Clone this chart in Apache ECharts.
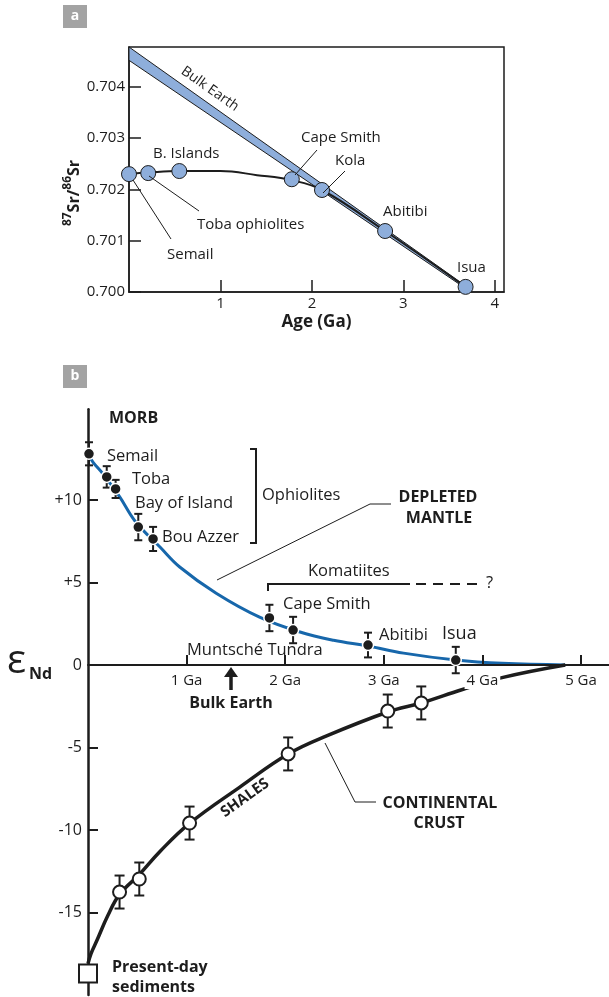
<!DOCTYPE html>
<html><head><meta charset="utf-8">
<script src="https://cdn.jsdelivr.net/npm/echarts@6/dist/echarts.min.js"></script>
<style>html,body{margin:0;padding:0;background:#fff}#c{width:609px;height:997px}</style>
</head><body><div id="c"></div>
<script>
// ---------- Panel a data : 87Sr/86Sr vs age ----------
const srNames = ['Semail', 'Toba ophiolites', 'B. Islands', 'Cape Smith', 'Kola', 'Abitibi', 'Isua'];
const srAge = [0.0, 0.21, 0.55, 1.78, 2.11, 2.80, 3.68];
const srRatio = [0.70230, 0.70232, 0.70236, 0.70220, 0.70199, 0.70119, 0.70010];
const srCurveAge = [0.0, 0.21, 0.55, 1.0, 1.4, 1.78, 2.11, 2.80, 3.68];
const srCurveRatio = [0.70230, 0.70233, 0.70236, 0.70236, 0.70228, 0.70218, 0.70199, 0.70119, 0.70010];
const bandAge = [0.0, 3.68];
const bandUpper = [0.70478, 0.70012];
const bandLower = [0.70452, 0.70007];
const srTicks = [0.700, 0.701, 0.702, 0.703, 0.704];
const ageTicksA = [1, 2, 3, 4];

// ---------- Panel b data : eps Nd vs age ----------
const mantleNames = ['Semail', 'Toba', 'Bay of Island', 'Bay of Island', 'Bou Azzer', 'Cape Smith', 'Muntsché Tundra', 'Abitibi', 'Isua'];
const mantleAge = [0.01, 0.19, 0.28, 0.51, 0.66, 1.84, 2.08, 2.84, 3.73];
const mantleEps = [12.8, 11.4, 10.67, 8.36, 7.64, 2.85, 2.12, 1.21, 0.30];
const mantleErr = [0.7, 0.65, 0.55, 0.8, 0.73, 0.8, 0.8, 0.75, 0.8];
const mantleCurveAge = [0, 0.05, 0.15, 0.32, 0.48, 0.73, 0.93, 1.3, 1.74, 2.15, 2.49, 2.84, 3.2, 3.73, 4.2, 4.84];
const mantleCurveEps = [12.8, 12.3, 11.6, 10.2, 8.7, 7.15, 5.94, 4.35, 2.9, 2.0, 1.5, 1.15, 0.72, 0.3, 0.1, 0];
const shaleAge = [0.32, 0.52, 1.03, 2.03, 3.04, 3.38];
const shaleEps = [-13.76, -12.97, -9.58, -5.39, -2.79, -2.30];
const shaleErr = [1.0, 1.0, 1.0, 1.0, 1.0, 1.0];
const crustCurveAge = [0, 0.03, 0.09, 0.2, 0.32, 0.52, 0.73, 1.03, 1.54, 2.03, 2.42, 3.04, 3.38, 3.79, 4.21, 4.84];
const crustCurveEps = [-18.1, -17.5, -16.7, -15.2, -13.9, -12.7, -11.3, -9.6, -7.4, -5.4, -4.3, -2.85, -2.3, -1.5, -0.75, 0];
const sedimentAge = [0.0];
const sedimentEps = [-18.7];
const epsTicks = [-15, -10, -5, 0, 5, 10];
const ageTicksB = [1, 2, 3, 4, 5];

// ---------- styling ----------
const FONT = '"Open Sans", "Noto Sans", sans-serif';
const INK = '#1d1d1d';
const LIGHTBLUE = '#8eaedb';
const DEEPBLUE = '#1767ab';

const zip = (a, b) => a.map((v, i) => [v, b[i]]);
const zip3 = (a, b, c) => a.map((v, i) => [v, b[i], c[i]]);

function errorBarRender(capHalf, lw) {
  return function (params, api) {
    const x = api.value(0), y = api.value(1), e = api.value(2);
    const t = api.coord([x, y + e]);
    const b = api.coord([x, y - e]);
    const st = { stroke: INK, lineWidth: lw };
    return {
      type: 'group', children: [
        { type: 'line', shape: { x1: t[0], y1: t[1], x2: b[0], y2: b[1] }, style: st },
        { type: 'line', shape: { x1: t[0] - capHalf, y1: t[1], x2: t[0] + capHalf, y2: t[1] }, style: st },
        { type: 'line', shape: { x1: b[0] - capHalf, y1: b[1], x2: b[0] + capHalf, y2: b[1] }, style: st }
      ]
    };
  };
}

function txt(x, y, text, size, opt) {
  opt = opt || {};
  return {
    type: 'text', x: x, y: y, rotation: opt.rot || 0, z: 100,
    style: {
      x: 0, y: 0, text: text, fill: opt.fill || INK,
      font: (opt.bold ? 'bold ' : '') + size + 'px ' + FONT,
      align: opt.align || 'left', verticalAlign: 'middle',
      textAlign: opt.align || 'left', textVerticalAlign: 'middle'
    }
  };
}
function ln(pts, lw, dash) {
  return { type: 'polyline', z: 90, shape: { points: pts }, style: { stroke: INK, lineWidth: lw, fill: null, lineDash: dash || null } };
}

const graphics = [
  // panel badges
  { type: 'rect', shape: { x: 63, y: 5, width: 24, height: 23 }, style: { fill: '#a3a3a3' } },
  txt(75, 16.5, 'a', 14, { bold: true, align: 'center', fill: '#fff' }),
  { type: 'rect', shape: { x: 63, y: 365, width: 24, height: 23 }, style: { fill: '#a3a3a3' } },
  txt(75, 376.5, 'b', 14, { bold: true, align: 'center', fill: '#fff' }),

  // panel a y-axis name
  {
    type: 'text', x: 72, y: 193, rotation: Math.PI / 2, z: 100,
    style: {
      x: 0, y: 0, text: '{s|87}{b|Sr/}{s|86}{b|Sr}',
      align: 'center', verticalAlign: 'middle', textAlign: 'center', textVerticalAlign: 'middle',
      rich: {
        s: { font: 'bold 12px ' + FONT, fill: INK, verticalAlign: 'top', lineHeight: 20 },
        b: { font: 'bold 16px ' + FONT, fill: INK, verticalAlign: 'bottom', lineHeight: 20 }
      }
    }
  },
  // panel a annotations
  txt(210, 89, 'Bulk Earth', 14, { align: 'center', rot: -35.2 * Math.PI / 180 }),
  txt(153, 154, 'B. Islands', 15),
  txt(301, 138, 'Cape Smith', 15),
  txt(335, 161, 'Kola', 15),
  txt(383, 212, 'Abitibi', 15),
  txt(457, 268, 'Isua', 15),
  txt(197, 225, 'Toba ophiolites', 15),
  txt(167, 255, 'Semail', 15),
  ln([[317, 150], [295, 175]], 1),
  ln([[345, 171], [323, 193]], 1),
  ln([[199, 211], [149, 176]], 1),
  ln([[171, 239], [133, 180]], 1),

  // panel b axis name
  txt(7, 662, 'ε', 40),
  txt(29, 674, 'Nd', 16, { bold: true }),
  // panel b annotations
  txt(109, 418, 'MORB', 16, { bold: true }),
  txt(107, 456, 'Semail', 16.5),
  txt(132, 479, 'Toba', 16.5),
  txt(135, 503, 'Bay of Island', 16.5),
  txt(162, 537, 'Bou Azzer', 16.5),
  txt(262, 495, 'Ophiolites', 16.5),
  ln([[250, 449], [256, 449], [256, 543], [250, 543]], 2),
  txt(438, 497, 'DEPLETED', 16, { bold: true, align: 'center' }),
  txt(439, 518, 'MANTLE', 16, { bold: true, align: 'center' }),
  ln([[217, 580], [370, 504], [391, 504]], 1),
  txt(308, 571, 'Komatiites', 16.5),
  ln([[268, 591], [268, 584], [410, 584]], 2),
  ln([[416, 584], [478, 584]], 2, [10, 7]),
  txt(486, 583, '?', 16.5),
  txt(283, 604, 'Cape Smith', 16.5),
  txt(187, 650, 'Muntsché Tundra', 16.5),
  txt(379, 635, 'Abitibi', 16.5),
  txt(442, 634, 'Isua', 18),
  // Bulk Earth arrow
  { type: 'line', z: 90, shape: { x1: 231, y1: 690, x2: 231, y2: 675 }, style: { stroke: INK, lineWidth: 3.5 } },
  { type: 'polygon', z: 90, shape: { points: [[224, 677], [238, 677], [231, 667]] }, style: { fill: INK } },
  txt(231, 703, 'Bulk Earth', 16, { bold: true, align: 'center' }),
  txt(245, 798, 'SHALES', 15, { bold: true, align: 'center', rot: 35.7 * Math.PI / 180 }),
  ln([[325, 743], [355, 802], [376, 802]], 1),
  txt(440, 803, 'CONTINENTAL', 16, { bold: true, align: 'center' }),
  txt(439, 823, 'CRUST', 16, { bold: true, align: 'center' }),
  txt(112, 967, 'Present-day', 16, { bold: true }),
  txt(112, 987, 'sediments', 16, { bold: true })
];

const chart = echarts.init(document.getElementById('c'), null, { renderer: 'canvas' });
const option = {
  animation: false,
  backgroundColor: '#fff',
  textStyle: { fontFamily: FONT },
  grid: [
    { left: 129, top: 47, width: 375, height: 245, show: true, borderColor: INK, borderWidth: 1.5, backgroundColor: 'transparent', containLabel: false, outerBoundsMode: 'none' },
    { left: 88, top: 409.25, width: 521, height: 585.75, containLabel: false, outerBoundsMode: 'none' }
  ],
  xAxis: [
    {
      gridIndex: 0, type: 'value', min: 0, max: 4.1, interval: 1,
      axisLine: { onZero: false, lineStyle: { color: INK, width: 1.5 } },
      axisTick: { inside: true, length: 12, customValues: ageTicksA, lineStyle: { color: INK, width: 1.5 } },
      axisLabel: { customValues: ageTicksA, color: INK, fontSize: 15, margin: 4, fontFamily: FONT },
      splitLine: { show: false },
      name: 'Age (Ga)', nameLocation: 'middle', nameGap: 22,
      nameTextStyle: { fontWeight: 'bold', fontSize: 17, color: INK, fontFamily: FONT }
    },
    {
      // the zero line of panel b: drawn at eps = 0 by moving the bottom axis up 20 units (20 x 16.5 px)
      gridIndex: 1, type: 'value', min: 0, max: 5.284, interval: 1, position: 'bottom', offset: -330, z: 5,
      axisLine: { onZero: false, lineStyle: { color: INK, width: 2 } },
      axisTick: { inside: true, length: 10, customValues: ageTicksB, lineStyle: { color: INK, width: 2 } },
      axisLabel: { customValues: ageTicksB, color: INK, fontSize: 15, margin: 7, fontFamily: FONT, formatter: v => v + ' Ga', backgroundColor: '#fff', padding: [1, 2] },
      splitLine: { show: false }
    }
  ],
  yAxis: [
    {
      gridIndex: 0, type: 'value', min: 0.700, max: 0.70478, interval: 0.001,
      axisLine: { show: true, onZero: false, lineStyle: { color: INK, width: 1.5 } },
      axisTick: { inside: true, length: 12, customValues: srTicks, lineStyle: { color: INK, width: 1.5 } },
      axisLabel: { customValues: srTicks, color: INK, fontSize: 15, margin: 4, fontFamily: FONT, formatter: v => v.toFixed(3) },
      splitLine: { show: false }
    },
    {
      gridIndex: 1, type: 'value', min: -20, max: 15.5,
      axisLine: { show: true, onZero: false, lineStyle: { color: INK, width: 2.5 } },
      axisTick: { inside: true, length: 10, customValues: epsTicks, lineStyle: { color: INK, width: 2 } },
      axisLabel: { customValues: epsTicks, color: INK, fontSize: 16, margin: 6, fontFamily: FONT, formatter: v => (v > 0 ? '+' + v : String(v)) },
      splitLine: { show: false }
    }
  ],
  series: [
    // ---- panel a ----
    {
      type: 'custom', xAxisIndex: 0, yAxisIndex: 0, z: 1, silent: true,
      data: [[0, 0.7]],
      renderItem: function (params, api) {
        const up = bandAge.map((a, i) => api.coord([a, bandUpper[i]]));
        const lo = bandAge.map((a, i) => api.coord([a, bandLower[i]])).reverse();
        return { type: 'polygon', shape: { points: up.concat(lo) }, style: { fill: LIGHTBLUE, stroke: INK, lineWidth: 1 } };
      }
    },
    {
      type: 'line', xAxisIndex: 0, yAxisIndex: 0, z: 2, smooth: 0.4, showSymbol: false,
      data: zip(srCurveAge, srCurveRatio), lineStyle: { color: INK, width: 2 }
    },
    {
      type: 'scatter', xAxisIndex: 0, yAxisIndex: 0, z: 3, symbolSize: 15,
      data: zip(srAge, srRatio),
      itemStyle: { color: LIGHTBLUE, borderColor: INK, borderWidth: 1, opacity: 1 }
    },
    // ---- panel b ----
    {
      type: 'line', xAxisIndex: 1, yAxisIndex: 1, z: 2, smooth: 0.4, showSymbol: false,
      data: zip(mantleCurveAge, mantleCurveEps), lineStyle: { color: DEEPBLUE, width: 3 }
    },
    {
      type: 'line', xAxisIndex: 1, yAxisIndex: 1, z: 2, smooth: 0.4, showSymbol: false,
      data: zip(crustCurveAge, crustCurveEps), lineStyle: { color: INK, width: 3.5 }
    },
    {
      type: 'custom', xAxisIndex: 1, yAxisIndex: 1, z: 3, silent: true,
      data: zip3(mantleAge, mantleEps, mantleErr), renderItem: errorBarRender(4, 2)
    },
    {
      type: 'custom', xAxisIndex: 1, yAxisIndex: 1, z: 3, silent: true,
      data: zip3(shaleAge, shaleEps, shaleErr), renderItem: errorBarRender(5, 2)
    },
    {
      type: 'scatter', xAxisIndex: 1, yAxisIndex: 1, z: 6, symbolSize: 11,
      data: zip(mantleAge, mantleEps),
      itemStyle: { color: INK, borderColor: '#fff', borderWidth: 1.5, opacity: 1 }
    },
    {
      type: 'scatter', xAxisIndex: 1, yAxisIndex: 1, z: 6, symbolSize: 13,
      data: zip(shaleAge, shaleEps),
      itemStyle: { color: '#fff', borderColor: INK, borderWidth: 2, opacity: 1 }
    },
    {
      type: 'scatter', xAxisIndex: 1, yAxisIndex: 1, z: 6, symbol: 'rect', symbolSize: 18,
      data: zip(sedimentAge, sedimentEps),
      itemStyle: { color: '#fff', borderColor: INK, borderWidth: 2, opacity: 1 }
    }
  ],
  graphic: graphics
};
chart.setOption(option);
</script>
</body></html>
